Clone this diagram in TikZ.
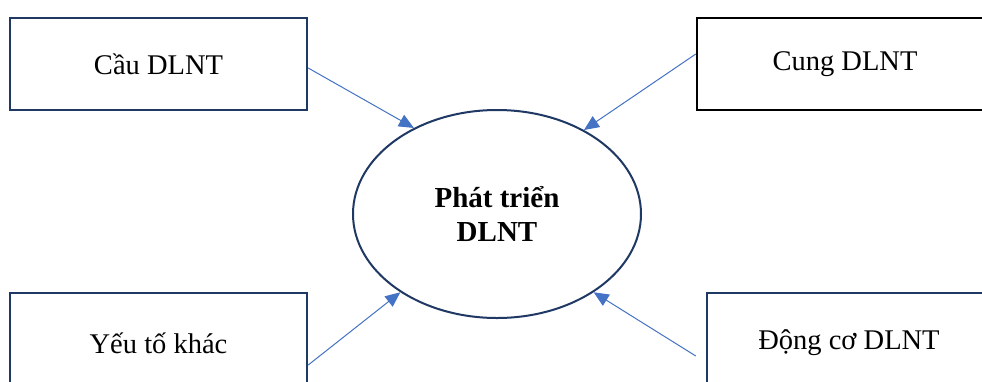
\documentclass[tikz,border=0pt]{standalone}
\usepackage{fontspec}
\setmainfont{Liberation Serif}
\usetikzlibrary{arrows.meta,shapes.geometric}
\definecolor{navy}{HTML}{1F3864}
\definecolor{arrowblue}{HTML}{4472C4}
\begin{document}
\begin{tikzpicture}[x=1pt,y=-1pt,
  box/.style={draw, line width=2.4pt, minimum width=297pt, minimum height=92pt, inner sep=0pt,
    font=\fontsize{28.5}{34}\selectfont},
  oval/.style={ellipse, draw=navy, line width=2pt, minimum width=288pt, minimum height=208pt, inner sep=0pt,
    align=center, font=\fontsize{29}{34}\selectfont\bfseries},
  arr/.style={draw=arrowblue, line width=1pt, -{Triangle[length=15pt,width=13pt]}}]
\useasboundingbox[fill=white] (0,0) rectangle (982,381);
\node[box, draw=navy] (cl) at (158.5,64) {Cầu DLNT};
\node[box, draw=black, minimum width=296pt] (cr) at (845,64) {Cung DLNT};
\node[box, draw=navy, minimum height=100pt] (bl) at (158.5,343) {Yếu tố khác};
\node[box, draw=navy, minimum width=284pt, minimum height=100pt] (br) at (849,343) {Động cơ DLNT};
\node[oval] (e) at (497,214) {Phát triển\\DLNT};
\draw[arr] ([yshift=-4pt]cl.east) -- (e.134);
\draw[arr] ([yshift=10pt]cr.west) -- (e.44);
\draw[arr] ([yshift=-22pt]bl.east) -- (e.219);
\draw[arr] ([xshift=-10pt,yshift=-13pt]br.west) -- (e.321);
\end{tikzpicture}
\end{document}
